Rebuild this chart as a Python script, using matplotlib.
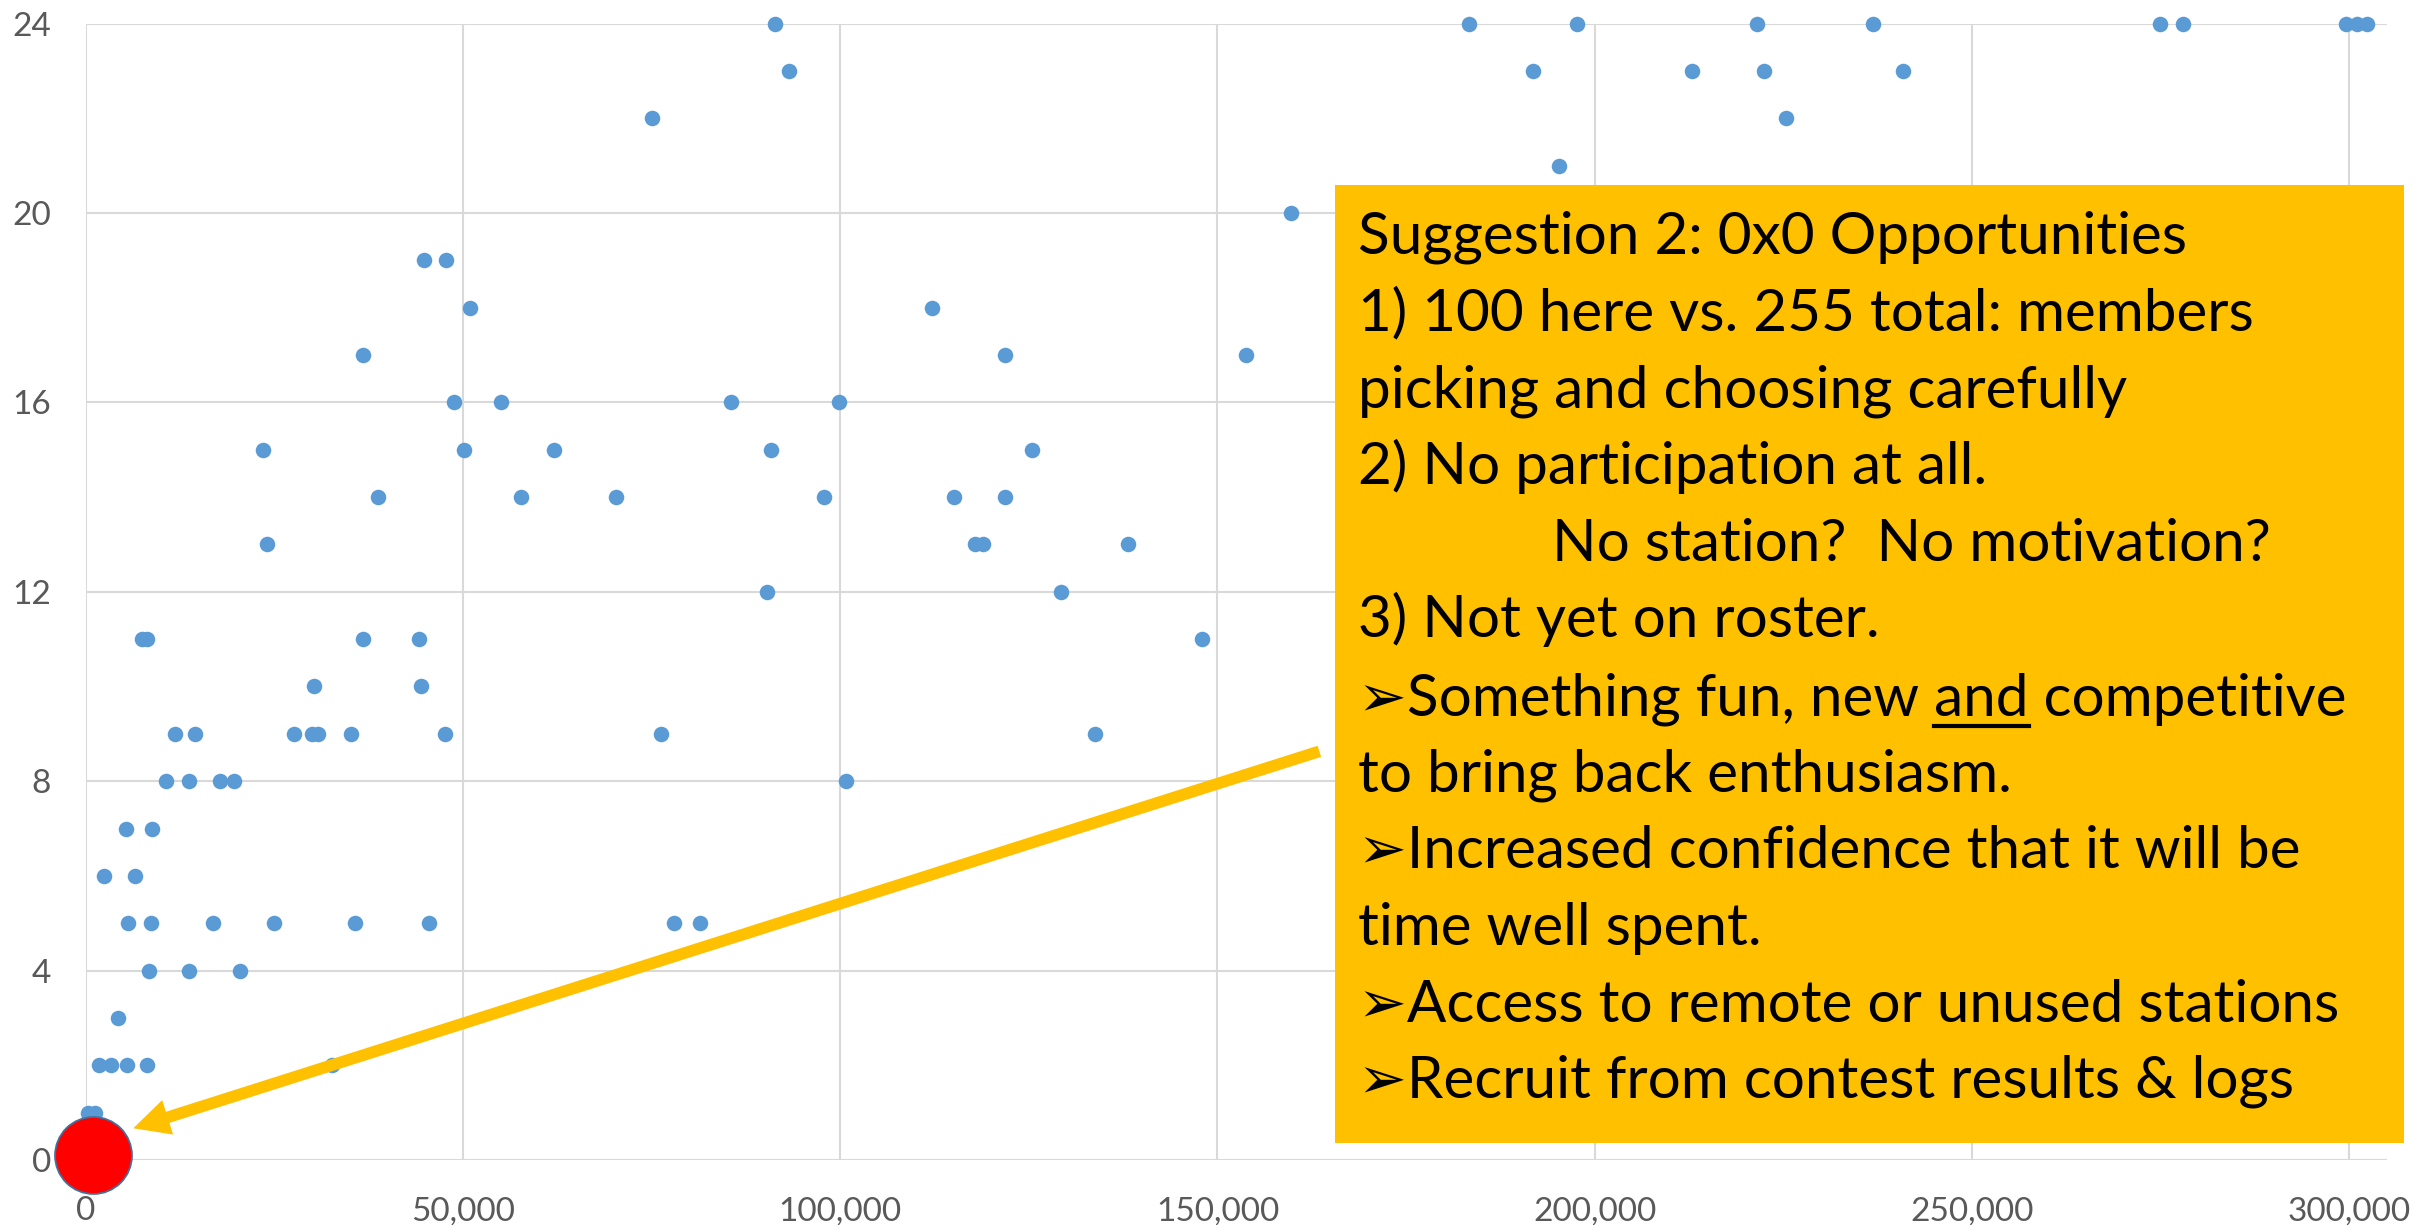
import matplotlib
matplotlib.use('Agg')
import matplotlib.pyplot as plt
from matplotlib.patches import Rectangle
from matplotlib.lines import Line2D
from matplotlib.ticker import FuncFormatter
from matplotlib.transforms import IdentityTransform

plt.rcParams['font.family'] = ['Lato', 'DejaVu Sans']

# scatter points, grouped by y value
score_x = [91400, 183300, 197600, 221500, 236900, 274900, 278000, 299600, 301000, 302400,  # 24
           93200, 191800, 212900, 222400, 240900,  # 23
           75100, 225400,  # 22
           195300,  # 21
           159800,  # 20
           44900, 47700,  # 19
           50900, 112200,  # 18
           36800, 121800, 153800,  # 17
           48800, 55000, 85500, 99900,  # 16
           23500, 50200, 62100, 90800, 125400,  # 15
           38700, 57700, 70300, 97800, 115100, 121800,  # 14
           24000, 117900, 118900, 138200,  # 13
           90300, 129300,  # 12
           7400, 8100, 36800, 44200, 148000,  # 11
           30300, 44500,  # 10
           11900, 14500, 27600, 30000, 30800, 35100, 47600, 76200, 133800,  # 9
           10700, 13700, 17800, 19700, 100800,  # 8
           5400, 8800,  # 7
           2400, 6500,  # 6
           5600, 8600, 16900, 25000, 35700, 45500, 78000, 81400,  # 5
           8400, 13700, 20500,  # 4
           4300,  # 3
           1700, 3300, 5500, 8100, 32600,  # 2
           300, 1200]  # 1
score_y = [24] * 10 + [23] * 5 + [22] * 2 + [21] + [20] + [19] * 2 + [18] * 2 + [17] * 3 \
    + [16] * 4 + [15] * 5 + [14] * 6 + [13] * 4 + [12] * 2 + [11] * 5 + [10] * 2 + [9] * 9 \
    + [8] * 5 + [7] * 2 + [6] * 2 + [5] * 8 + [4] * 3 + [3] + [2] * 5 + [1] * 2

# the big red "zero" marker
zero_x = [1000]
zero_y = [0.1]

x_ticks = [0, 50000, 100000, 150000, 200000, 250000, 300000]
y_ticks = [0, 4, 8, 12, 16, 20, 24]

box_lines = ["Suggestion 2: 0x0 Opportunities",
             "1) 100 here vs. 255 total: members",
             "picking and choosing carefully",
             "2) No participation at all.",
             "No station?  No motivation?",
             "3) Not yet on roster.",
             "\u27a2Something fun, new and competitive",
             "to bring back enthusiasm.",
             "\u27a2Increased confidence that it will be",
             "time well spent.",
             "\u27a2Access to remote or unused stations",
             "\u27a2Recruit from contest results & logs"]

W, H = 2415, 1225
fig = plt.figure(figsize=(W / 100, H / 100), dpi=100)
ax = fig.add_axes([85.7 / W, 1 - 1160 / H, (2387 - 85.7) / W, (1160 - 23.5) / H])

ax.scatter(score_x, score_y, s=125, color='#5B9BD5', linewidths=0, zorder=3, clip_on=False)

# arrow pointing at the zero point
ax.annotate('', xy=(6300, 0.67), xytext=(163500, 8.63),
            arrowprops=dict(arrowstyle='simple,head_length=0.65,head_width=0.65,tail_width=0.21',
                            mutation_scale=40, fc='#FFC000', ec='none', lw=0,
                            shrinkA=0, shrinkB=0), zorder=4)

ax.scatter(zero_x, zero_y, s=3070, color='#FF0000', edgecolors='#41719C', linewidths=1.3,
           zorder=5, clip_on=False)

ax.set_xlim(0, 305000)
ax.set_ylim(0, 24)
ax.set_xticks(x_ticks)
ax.set_yticks(y_ticks)
ax.xaxis.set_major_formatter(FuncFormatter(lambda v, p: '{:,.0f}'.format(v)))
ax.grid(color='#D9D9D9', lw=1.5)
ax.set_axisbelow(True)
for s in ax.spines.values():
    s.set_visible(False)
ax.tick_params(length=0, labelsize=24, labelcolor='#595959')
ax.tick_params(axis='x', pad=26)
ax.tick_params(axis='y', pad=25)

# orange text box
fig.add_artist(Rectangle((1335 / W, 1 - 1143 / H), (2404 - 1335) / W, (1143 - 185) / H,
                         transform=fig.transFigure, fc='#FFC000', ec='none', zorder=2))

baselines = [253, 330, 407, 484, 561, 637, 715, 792, 868, 945, 1022, 1098]
fs = 42
texts = []
for i, line in enumerate(box_lines):
    x0 = 1552 if i == 4 else 1358
    t = fig.text(x0 / W, 1 - baselines[i] / H, line, fontsize=fs, va='baseline', ha='left',
                 color='black', zorder=4)
    texts.append(t)

# underline the word "and"
fig.canvas.draw()
r = fig.canvas.get_renderer()
pre = fig.text(1358 / W, 1 - baselines[6] / H, "\u27a2Something fun, new and", fontsize=fs,
               va='baseline', ha='left')
word = fig.text(1358 / W, 1 - baselines[6] / H, "and", fontsize=fs, va='baseline', ha='left')
e_pre = pre.get_window_extent(r)
e_word = word.get_window_extent(r)
pre.remove()
word.remove()
uy = H - baselines[6] - 11
fig.add_artist(Line2D([e_pre.x1 - e_word.width, e_pre.x1], [uy, uy], transform=IdentityTransform(),
                      color='black', lw=3, zorder=4))

fig.savefig('out.png', dpi=100)
